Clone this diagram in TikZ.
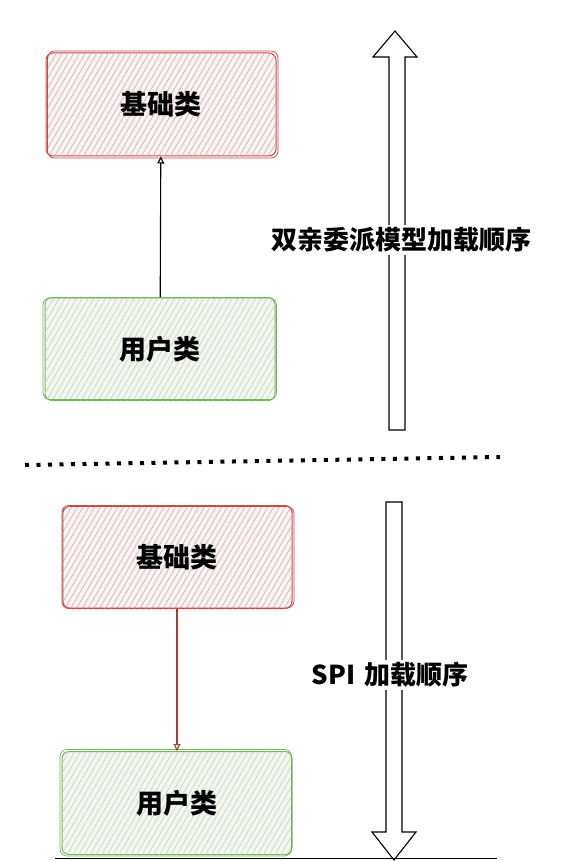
\documentclass[tikz,border=0pt]{standalone}
\usepackage{fontspec}
\newfontfamily\cjk{Noto Sans CJK SC}
\usetikzlibrary{arrows.meta,patterns.meta}
\definecolor{sketchred}{RGB}{200,70,70}
\definecolor{sketchgreen}{RGB}{115,180,85}

\begin{document}
\begin{tikzpicture}[x=1pt,y=-1pt,
    box/.style={draw=sketch#1, line width=1pt, rounded corners=7pt,
        minimum width=230pt, minimum height=103pt, fill=gray!8,
        postaction={pattern={Lines[angle=60,distance=5pt,line width=0.7pt]}, pattern color=sketch#1!45},
        font=\cjk\bfseries\fontsize{27}{30}\selectfont},
    sketch/.style={draw=sketch#1, line width=0.7pt, rounded corners=7pt},
    label/.style={fill=white, inner sep=2pt, font=\cjk\bfseries\fontsize{26}{28}\selectfont},
    link/.style={draw=#1, line width=1.1pt, -{Triangle[open,length=7pt,width=7pt]}},
    bigarr/.style={draw=black, line width=1.1pt, fill=white, line join=miter}
]
\useasboundingbox (0,0) rectangle (560,861);

% Dimensions
\def\hw{22} \def\sw{8} % Head and shaft half widths

% Upper part: parent delegation
\node[box=red] (base1) at (161,104.5) {基础类};
\node[box=green] (user1) at (160,349) {用户类};
\draw[sketch=red] ([shift={(2,-1.5)}]base1.north west) rectangle ([shift={(1.5,1.5)}]base1.south east);
\draw[sketch=green] ([shift={(-1.5,1)}]user1.north west) rectangle ([shift={(1,-1.5)}]user1.south east);
\draw[link=black] (user1) -- (base1);

\draw[bigarr] (395,31) -- (395+\hw,57) -- (397+\sw,57) -- (397+\sw,430)
    -- (397-\sw,430) -- (397-\sw,57) -- (395-\hw,57) -- cycle;
\node[label] (order1) at (401,240) {双亲委派模型加载顺序};

% Separator
\draw[line width=4pt, dash pattern=on 4pt off 7.5pt] (25,465) -- (500,457);

% Lower part: SPI
\node[box=red] (base2) at (177,557) {基础类};
\node[box=green] (user2) at (177,803) {用户类};
\draw[sketch=red] ([shift={(1.5,1.5)}]base2.north west) rectangle ([shift={(1.5,-1)}]base2.south east);
\draw[sketch=green] ([shift={(-1.5,-1.5)}]user2.north west) rectangle ([shift={(-1,1)}]user2.south east);
\draw[link=sketchred!85!black] (base2) -- (user2);

\draw[bigarr] (394,860) -- (394+\hw,832) -- (394+\sw,832) -- (394+\sw,502)
    -- (394-\sw,502) -- (394-\sw,832) -- (394-\hw,832) -- cycle;
\node[label] (order2) at (390,675) {SPI\,\,加载顺序};

% Bottom edge
\draw[line width=0.9pt] (55,858.5) -- (497,858.5);
\end{tikzpicture}
\end{document}
